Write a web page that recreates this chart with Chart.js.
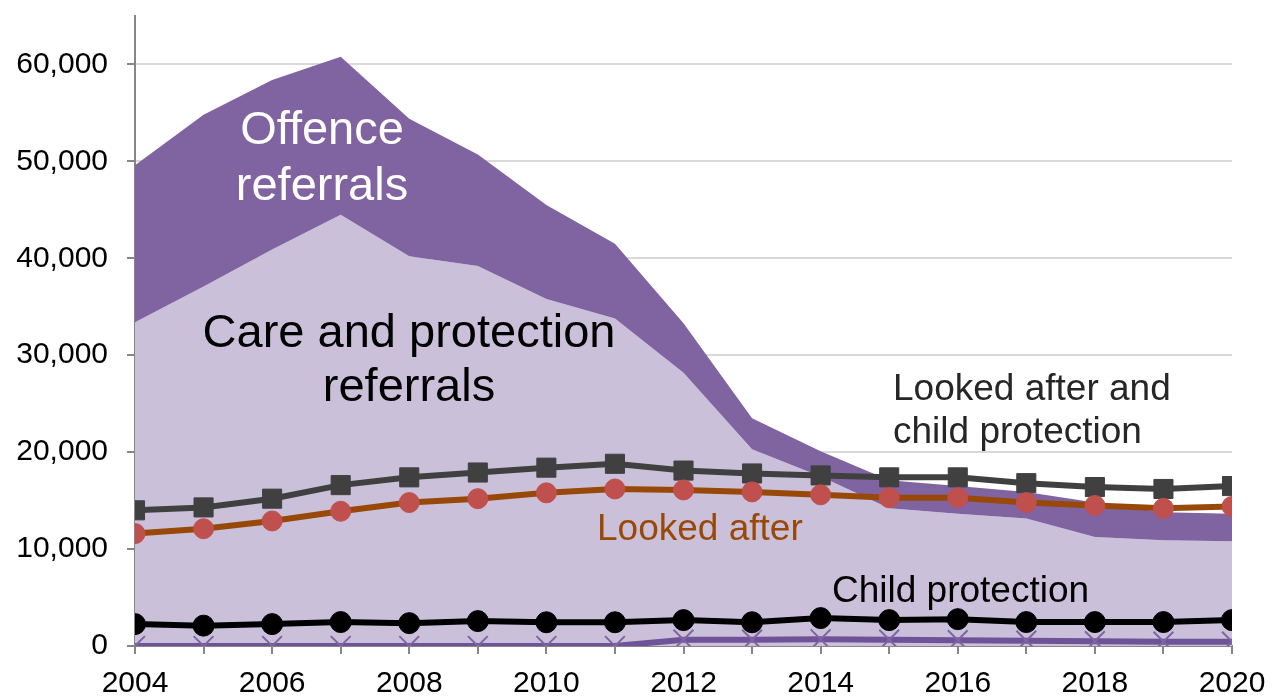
<!DOCTYPE html>
<html>
<head>
<meta charset="utf-8">
<script src="https://cdn.jsdelivr.net/npm/chart.js@4/dist/chart.umd.min.js"></script>
<style>
  html, body { margin: 0; padding: 0; background: #ffffff; }
  canvas { display: block; }
</style>
</head>
<body>
<canvas id="c" width="1277" height="696"></canvas>
<script>
// ---- Data ----
const years = [2004, 2005, 2006, 2007, 2008, 2009, 2010, 2011, 2012, 2013, 2014, 2015, 2016, 2017, 2018, 2019, 2020];
const careProtectionReferrals = [33400, 37100, 40900, 44500, 40200, 39200, 35800, 33800, 28200, 20300, 17500, 14200, 13650, 13150, 11240, 10900, 10800];
const offenceReferrals = [16200, 17700, 17500, 16300, 14200, 11500, 9700, 7700, 5100, 3200, 2600, 2900, 2850, 2750, 3560, 2900, 2850];
const lookedAfterAndChildProtection = [14000, 14300, 15200, 16600, 17400, 17900, 18400, 18800, 18100, 17800, 17600, 17400, 17400, 16800, 16400, 16200, 16500];
const lookedAfter = [11600, 12100, 12900, 13900, 14800, 15200, 15800, 16200, 16100, 15900, 15600, 15300, 15300, 14800, 14500, 14200, 14400];
const childProtection = [2260, 2100, 2260, 2470, 2360, 2570, 2450, 2450, 2670, 2450, 2880, 2670, 2770, 2470, 2470, 2470, 2670];
const otherSeries = [0, 0, 0, 0, 0, 0, 0, 0, 650, 650, 690, 650, 600, 550, 500, 450, 450];
const yTickValues = [0, 10000, 20000, 30000, 40000, 50000, 60000];
const xLabelYears = [2004, 2006, 2008, 2010, 2012, 2014, 2016, 2018, 2020];

const annotations = [
  { lines: ['Offence', 'referrals'], x: 322, y: [144, 200], align: 'center', color: '#ffffff', size: 47 },
  { lines: ['Care and protection', 'referrals'], x: 409, y: [347, 401], align: 'center', color: '#000000', size: 47 },
  { lines: ['Looked after and', 'child protection'], x: 893, y: [400, 443], align: 'left', color: '#262626', size: 37 },
  { lines: ['Looked after'], x: 597, y: [540], align: 'left', color: '#984807', size: 37 },
  { lines: ['Child protection'], x: 832, y: [602], align: 'left', color: '#000000', size: 37 }
];

const pts = arr => arr.map((v, i) => ({ x: years[i], y: v }));
const totalReferrals = careProtectionReferrals.map((v, i) => v + offenceReferrals[i]);

const FONT = "'Liberation Sans', Arial, sans-serif";

const textPlugin = {
  id: 'textLabels',
  afterDatasetsDraw(chart) {
    const ctx = chart.ctx;
    ctx.save();
    ctx.textBaseline = 'alphabetic';
    annotations.forEach(a => {
      ctx.font = a.size + 'px ' + FONT;
      ctx.fillStyle = a.color;
      ctx.textAlign = a.align;
      a.lines.forEach((t, i) => ctx.fillText(t, a.x, a.y[i]));
    });
    ctx.restore();
  }
};

new Chart(document.getElementById('c'), {
  type: 'line',
  data: {
    datasets: [
      {
        label: 'Care and protection referrals',
        data: pts(careProtectionReferrals),
        backgroundColor: '#CBC0DA',
        borderWidth: 0,
        pointRadius: 0,
        fill: 'origin',
        order: 10
      },
      {
        label: 'Offence referrals',
        data: pts(totalReferrals),
        backgroundColor: '#8064A2',
        borderWidth: 0,
        pointRadius: 0,
        fill: 0,
        order: 9
      },
      {
        label: 'Other',
        data: pts(otherSeries),
        borderColor: '#6F5398',
        borderWidth: 6,
        pointStyle: 'crossRot',
        pointRadius: 14,
        pointBorderColor: '#8064A2',
        pointBorderWidth: 2,
        fill: false,
        order: 4
      },
      {
        label: 'Child protection',
        data: pts(childProtection),
        borderColor: '#000000',
        borderWidth: 6,
        pointStyle: 'circle',
        pointRadius: 10.5,
        pointBackgroundColor: '#000000',
        pointBorderColor: '#000000',
        pointBorderWidth: 1,
        fill: false,
        order: 3
      },
      {
        label: 'Looked after',
        data: pts(lookedAfter),
        borderColor: '#984807',
        borderWidth: 6,
        pointStyle: 'circle',
        pointRadius: 10,
        pointBackgroundColor: '#C0504D',
        pointBorderColor: '#C0504D',
        pointBorderWidth: 1,
        fill: false,
        order: 1
      },
      {
        label: 'Looked after and child protection',
        data: pts(lookedAfterAndChildProtection),
        borderColor: '#404040',
        borderWidth: 6,
        pointStyle: 'rect',
        pointRadius: 13.5,
        pointBackgroundColor: '#404040',
        pointBorderColor: '#404040',
        pointBorderWidth: 1,
        fill: false,
        order: 2
      }
    ]
  },
  options: {
    responsive: false,
    devicePixelRatio: 1,
    animation: false,
    elements: { line: { tension: 0 } },
    layout: { padding: { top: 12, right: 45, left: 0, bottom: 0 } },
    plugins: { legend: { display: false }, tooltip: { enabled: false } },
    scales: {
      x: {
        type: 'linear',
        min: 2004,
        max: 2020,
        afterBuildTicks(scale) { scale.ticks = years.map(v => ({ value: v })); },
        afterFit(scale) { scale.height = 50; scale.paddingLeft = 0; scale.paddingRight = 0; },
        ticks: {
          autoSkip: false,
          maxRotation: 0,
          padding: 12,
          color: '#000000',
          font: { family: FONT, size: 30 },
          callback: v => (xLabelYears.includes(v) ? String(v) : '')
        },
        grid: { drawOnChartArea: false, drawTicks: true, tickLength: 8, color: '#868686', lineWidth: 2 },
        border: { display: true, color: '#868686', width: 2 }
      },
      y: {
        min: 0,
        max: 65000,
        afterBuildTicks(scale) { scale.ticks = yTickValues.map(v => ({ value: v })); },
        afterFit(scale) { scale.width = 135; scale.paddingTop = 0; scale.paddingBottom = 0; },
        ticks: {
          padding: 19,
          color: '#000000',
          font: { family: FONT, size: 30 },
          callback: v => v.toLocaleString('en-US')
        },
        grid: { color: '#D9D9D9', lineWidth: 2, tickColor: '#868686', tickLength: 8 },
        border: { display: true, color: '#868686', width: 2 }
      }
    }
  },
  plugins: [textPlugin]
});
</script>
</body>
</html>
